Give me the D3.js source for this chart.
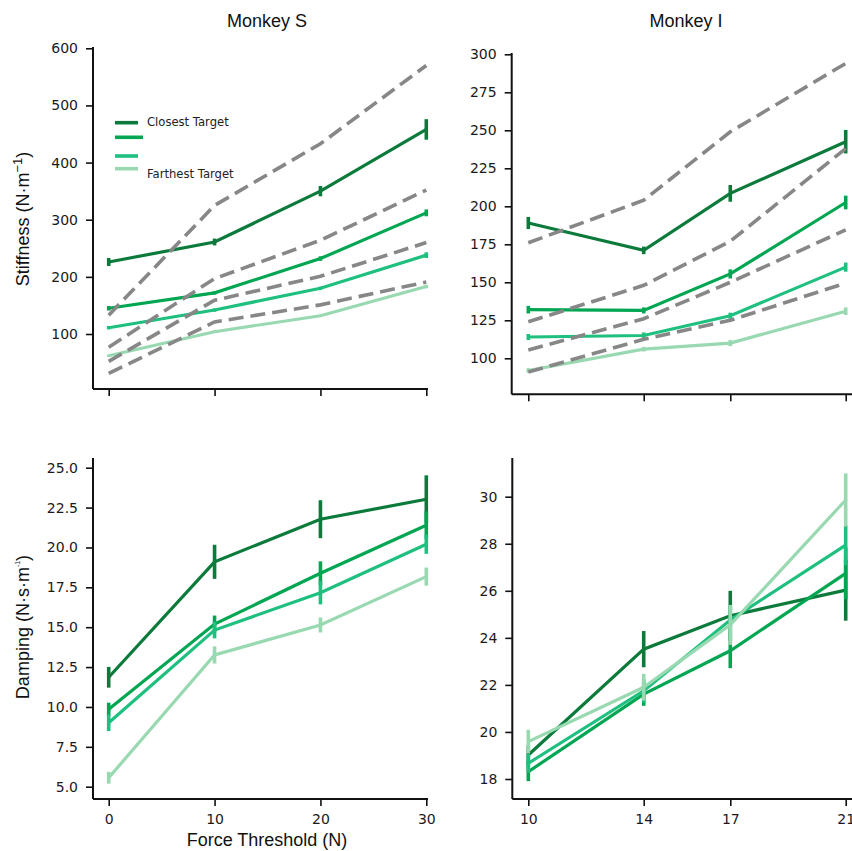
<!DOCTYPE html>
<html>
<head>
<meta charset="utf-8">
<script src="https://cdn.jsdelivr.net/npm/d3@7"></script>
<style>
  body { margin: 0; background: #fff; }
  .tick text { font-family: "DejaVu Sans", Verdana, sans-serif; font-size: 14px; fill: #1a1a1a; }
  .lab { font-family: "Liberation Sans", Arial, sans-serif; fill: #111; }
</style>
</head>
<body>
<div id="chart"></div>
<script>
// series labels and colours, closest -> farthest target
var targets = ["Closest Target", "", "", "Farthest Target"];
var colors = ["#0b7a3b", "#00a651", "#1fc07f", "#99d9b1"];

// Monkey S
var forceS = [0, 10, 20, 30];
var stiffS = [[226, 261, 350, 458], [145, 172, 232, 312], [111, 142, 180, 238], [62, 104, 132, 183]];
var stiffSErr = [[7, 6, 9, 18], [4, 3, 4, 6], [3, 3, 3, 5], [2, 2, 2, 3]];
var modelS = [[133, 325, 433, 570], [77, 197, 264, 352], [52, 159, 201, 260], [31, 121, 151, 191]];
var dampS = [[11.86, 19.1, 21.77, 23.02], [9.85, 15.2, 18.38, 21.39], [9.01, 14.82, 17.16, 20.2], [5.56, 13.26, 15.14, 18.17]];
var dampSErr = [[0.65, 1.07, 1.19, 1.5], [0.42, 0.53, 0.75, 0.87], [0.52, 0.52, 0.73, 0.6], [0.37, 0.54, 0.47, 0.57]];

// Monkey I
var forceI = [10, 14, 17, 21];
var stiffI = [[189, 171, 208.5, 242.5], [132, 131.5, 155.5, 202.5], [114, 115, 128, 160], [92, 106, 110, 131]];
var stiffIErr = [[4, 2.5, 5.5, 7.7], [2.5, 2, 3, 4.5], [2, 2, 2, 3], [1.5, 1.5, 2, 2.5]];
var modelI = [[176, 204, 249, 294], [124, 148, 177, 238], [105.5, 126, 150, 184.5], [91, 112.5, 125, 149.5]];
var dampI = [[19.02, 23.52, 24.94, 26.03], [18.31, 21.61, 23.45, 26.74], [18.67, 21.75, 24.76, 27.94], [19.59, 21.9, 24.55, 29.86]];
var dampIErr = [[0.4, 0.77, 1.06, 1.3], [0.4, 0.5, 0.74, 1.1], [0.4, 0.5, 0.6, 0.85], [0.5, 0.57, 0.85, 1.13]];

// tick values
var xTicksS = [0, 10, 20, 30];
var xTicksI = [10, 14, 17, 21];
var yTicksStiffS = [100, 200, 300, 400, 500, 600];
var yTicksStiffI = [100, 125, 150, 175, 200, 225, 250, 275, 300];
var yTicksDampS = [5, 7.5, 10, 12.5, 15, 17.5, 20, 22.5, 25];
var yTicksDampI = [18, 20, 22, 24, 26, 28, 30];

var svgWidth = 852;
var svgHeight = 851;

var svg = d3.select("#chart")
            .append("svg")
            .attr("width", svgWidth)
            .attr("height", svgHeight);

function drawPanel(p) {
  var g = svg.append("g");

  var x = d3.scaleLinear().domain(p.xAnchor).range(p.xPix);
  var y = d3.scaleLinear().domain(p.yAnchor).range(p.yPix);

  // axes (no domain path, spines drawn below)
  var xAxis = d3.axisBottom(x).tickValues(p.xTicks).tickSize(7).tickPadding(8);
  if (!p.xLabels) xAxis.tickFormat("");
  var gx = g.append("g").attr("transform", "translate(0," + p.bottom + ")").call(xAxis);
  gx.select(".domain").remove();

  var yAxis = d3.axisLeft(y).tickValues(p.yTicks).tickSize(7).tickPadding(8).tickFormat(p.yFormat);
  var gy = g.append("g").attr("transform", "translate(" + p.left + ",0)").call(yAxis);
  gy.select(".domain").remove();
  g.selectAll(".tick line").attr("stroke", "#111").attr("stroke-width", 1.6);

  g.append("line").attr("x1", p.left).attr("x2", p.right).attr("y1", p.bottom).attr("y2", p.bottom)
    .attr("stroke", "#111").attr("stroke-width", 2);
  g.append("line").attr("x1", p.left).attr("x2", p.left).attr("y1", p.top).attr("y2", p.bottom)
    .attr("stroke", "#111").attr("stroke-width", 2);

  var line = d3.line()
    .x(function(d) { return x(d[0]); })
    .y(function(d) { return y(d[1]); });

  // observed lines + error bars
  p.values.forEach(function(vals, i) {
    var pts = vals.map(function(v, j) { return [p.xs[j], v, p.errs[i][j]]; });
    g.append("path")
      .datum(pts)
      .attr("d", line)
      .attr("fill", "none")
      .attr("stroke", colors[i])
      .attr("stroke-width", 3.2);
    g.selectAll(null)
      .data(pts)
      .enter()
      .append("line")
      .attr("x1", function(d) { return x(d[0]); })
      .attr("x2", function(d) { return x(d[0]); })
      .attr("y1", function(d) { return y(d[1] - d[2]); })
      .attr("y2", function(d) { return y(d[1] + d[2]); })
      .attr("stroke", colors[i])
      .attr("stroke-width", 3.6);
  });

  // model predictions (dashed grey)
  if (p.model) {
    p.model.forEach(function(vals) {
      var pts = vals.map(function(v, j) { return [p.xs[j], v]; });
      g.append("path")
        .datum(pts)
        .attr("d", line)
        .attr("fill", "none")
        .attr("stroke", "#878787")
        .attr("stroke-width", 3.6)
        .attr("stroke-dasharray", "15,7");
    });
  }
  return g;
}

var fmt0 = d3.format("d");
var fmt1 = d3.format(".1f");

drawPanel({
  left: 93, right: 428, top: 47, bottom: 389,
  xAnchor: [0, 30], xPix: [108.7, 426.3],
  yAnchor: [100, 600], yPix: [334, 48.3],
  xTicks: xTicksS, yTicks: yTicksStiffS, yFormat: fmt0, xLabels: false,
  xs: forceS, values: stiffS, errs: stiffSErr, model: modelS
});

drawPanel({
  left: 511.7, right: 860, top: 53, bottom: 394.3,
  xAnchor: [10, 21], xPix: [528.3, 845.7],
  yAnchor: [100, 300], yPix: [358.3, 54.3],
  xTicks: xTicksI, yTicks: yTicksStiffI, yFormat: fmt0, xLabels: false,
  xs: forceI, values: stiffI, errs: stiffIErr, model: modelI
});

drawPanel({
  left: 93, right: 428, top: 458, bottom: 799,
  xAnchor: [0, 30], xPix: [108.7, 426.3],
  yAnchor: [5, 25], yPix: [786.7, 467.7],
  xTicks: xTicksS, yTicks: yTicksDampS, yFormat: fmt1, xLabels: true,
  xs: forceS, values: dampS, errs: dampSErr, model: null
});

drawPanel({
  left: 512.3, right: 860, top: 458, bottom: 799,
  xAnchor: [10, 21], xPix: [528.3, 845.7],
  yAnchor: [18, 30], yPix: [779, 496.7],
  xTicks: xTicksI, yTicks: yTicksDampI, yFormat: fmt0, xLabels: true,
  xs: forceI, values: dampI, errs: dampIErr, model: null
});

// titles
svg.append("text").attr("class", "lab").attr("x", 267).attr("y", 27)
  .attr("text-anchor", "middle").style("font-size", "18px").text("Monkey S");
svg.append("text").attr("class", "lab").attr("x", 686).attr("y", 27)
  .attr("text-anchor", "middle").style("font-size", "18px").text("Monkey I");

// axis labels
var st = svg.append("text").attr("class", "lab")
  .attr("transform", "translate(29,219) rotate(-90)")
  .attr("text-anchor", "middle").style("font-size", "18px");
st.append("tspan").text("Stiffness (N\u00b7m");
st.append("tspan").attr("dy", -7).style("font-size", "13px").text("\u22121");
st.append("tspan").attr("dy", 7).text(")");

var dp = svg.append("text").attr("class", "lab")
  .attr("transform", "translate(29,627) rotate(-90)")
  .attr("text-anchor", "middle").style("font-size", "18px");
dp.append("tspan").text("Damping (N\u00b7s\u00b7m");
dp.append("tspan").attr("dy", -9).style("font-size", "7px").text("-1");
dp.append("tspan").attr("dy", 9).text(")");

svg.append("text").attr("class", "lab").attr("x", 267).attr("y", 846)
  .attr("text-anchor", "middle").style("font-size", "18px").text("Force Threshold (N)");

// legend
var legY = [122.7, 137.3, 156, 168.7];
var legend = svg.append("g");
targets.forEach(function(t, i) {
  legend.append("line")
    .attr("x1", 115).attr("x2", i == 1 ? 143 : 138)
    .attr("y1", legY[i]).attr("y2", legY[i])
    .attr("stroke", colors[i]).attr("stroke-width", 3.6);
});
legend.append("text").attr("x", 147).attr("y", 126)
  .style("font-family", "'DejaVu Sans', Verdana, sans-serif").style("font-size", "11.6px").style("fill", "#222")
  .text(targets[0]);
legend.append("text").attr("x", 147).attr("y", 177.7)
  .style("font-family", "'DejaVu Sans', Verdana, sans-serif").style("font-size", "11.6px").style("fill", "#222")
  .text(targets[3]);
</script>
</body>
</html>
